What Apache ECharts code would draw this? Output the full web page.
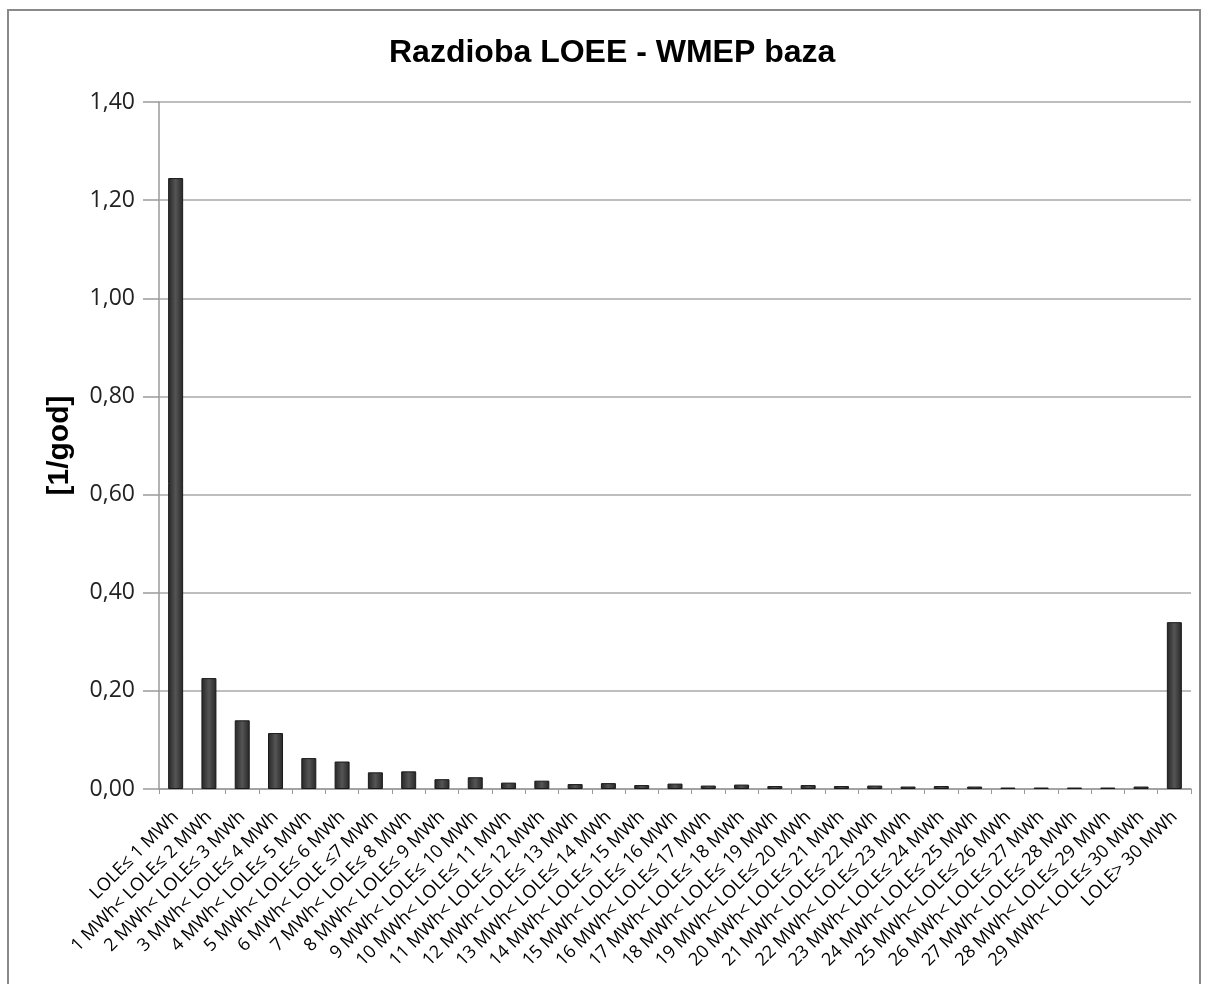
<!DOCTYPE html>
<html>
<head>
<meta charset="utf-8">
<script src="https://cdn.jsdelivr.net/npm/echarts@6/dist/echarts.min.js"></script>
<style>
html,body{margin:0;padding:0;background:#fff;}
#chart{width:1208px;height:984px;}
</style>
</head>
<body>
<div id="chart"></div>
<script>
// Data
var categories = [
  "LOLE≤ 1 MWh",
  "1 MWh< LOLE≤ 2 MWh",
  "2 MWh< LOLE≤ 3 MWh",
  "3 MWh< LOLE≤ 4 MWh",
  "4 MWh< LOLE≤ 5 MWh",
  "5 MWh< LOLE≤ 6 MWh",
  "6 MWh< LOLE ≤7 MWh",
  "7 MWh< LOLE≤ 8 MWh",
  "8 MWh< LOLE≤ 9 MWh",
  "9 MWh< LOLE≤ 10 MWh",
  "10 MWh< LOLE≤ 11 MWh",
  "11 MWh< LOLE≤ 12 MWh",
  "12 MWh< LOLE≤ 13 MWh",
  "13 MWh< LOLE≤ 14 MWh",
  "14 MWh< LOLE≤ 15 MWh",
  "15 MWh< LOLE≤ 16 MWh",
  "16 MWh< LOLE≤ 17 MWh",
  "17 MWh< LOLE≤ 18 MWh",
  "18 MWh< LOLE≤ 19 MWh",
  "19 MWh< LOLE≤ 20 MWh",
  "20 MWh< LOLE≤ 21 MWh",
  "21 MWh< LOLE≤ 22 MWh",
  "22 MWh< LOLE≤ 23 MWh",
  "23 MWh< LOLE≤ 24 MWh",
  "24 MWh< LOLE≤ 25 MWh",
  "25 MWh< LOLE≤ 26 MWh",
  "26 MWh< LOLE≤ 27 MWh",
  "27 MWh< LOLE≤ 28 MWh",
  "28 MWh< LOLE≤ 29 MWh",
  "29 MWh< LOLE≤ 30 MWh",
  "LOLE> 30 MWh"
];
var values = [
  1.245, 0.226, 0.140, 0.114, 0.063, 0.056, 0.034, 0.036, 0.020, 0.024,
  0.013, 0.017, 0.010, 0.012, 0.008, 0.011, 0.007, 0.009, 0.006, 0.008,
  0.006, 0.007, 0.005, 0.006, 0.005, 0.003, 0.003, 0.003, 0.003, 0.005,
  0.340
];
var yTicks = { min: 0, max: 1.4, interval: 0.2 };
var titleText = "Razdioba LOEE - WMEP baza";
var yName = "[1/god]";

var chart = echarts.init(document.getElementById('chart'), null, {renderer: 'canvas'});
var barColor = new echarts.graphic.LinearGradient(0, 0, 1, 0, [
  {offset: 0, color: '#262626'},
  {offset: 0.5, color: '#555555'},
  {offset: 1, color: '#262626'}
]);
chart.setOption({
  animation: false,
  backgroundColor: '#ffffff',
  title: {
    text: titleText,
    left: 384,
    top: 32,
    textStyle: {fontFamily: 'Liberation Sans, Arial', fontWeight: 'bold', fontSize: 32, color: '#000'}
  },
  graphic: [{
    type: 'rect',
    shape: {x: 8, y: 10, width: 1192, height: 1000},
    style: {fill: 'none', stroke: '#8a8a8a', lineWidth: 2},
    silent: true
  }],
  grid: {left: 159, right: 17, top: 102, bottom: 195, containLabel: false},
  xAxis: {
    type: 'category',
    data: categories,
    axisLine: {lineStyle: {color: '#9a9a9a', width: 1.5}},
    axisTick: {show: true, length: 5, lineStyle: {color: '#9a9a9a'}},
    axisLabel: {
      rotate: 45,
      interval: 0,
      fontFamily: 'Open Sans',
      fontSize: 18,
      color: '#000',
      margin: 25
    }
  },
  yAxis: {
    type: 'value',
    min: yTicks.min,
    max: yTicks.max,
    interval: yTicks.interval,
    name: yName,
    nameLocation: 'middle',
    nameGap: 84,
    nameRotate: 90,
    nameTextStyle: {fontFamily: 'Liberation Sans, Arial', fontWeight: 'bold', fontSize: 30, color: '#000'},
    axisLine: {show: true, lineStyle: {color: '#9a9a9a', width: 1.5}},
    axisTick: {show: true, length: 16, lineStyle: {color: '#9a9a9a', width: 1.5}},
    splitLine: {lineStyle: {color: '#a8a8a8', width: 1.5}},
    axisLabel: {
      margin: 24,
      fontFamily: 'Open Sans',
      fontSize: 23,
      color: '#222',
      formatter: function (v) { return v.toFixed(2).replace('.', ','); }
    }
  },
  series: [{
    type: 'bar',
    data: values,
    barWidth: 15,
    itemStyle: {color: barColor, borderColor: '#1a1a1a', borderWidth: 1}
  }]
});
</script>
</body>
</html>
